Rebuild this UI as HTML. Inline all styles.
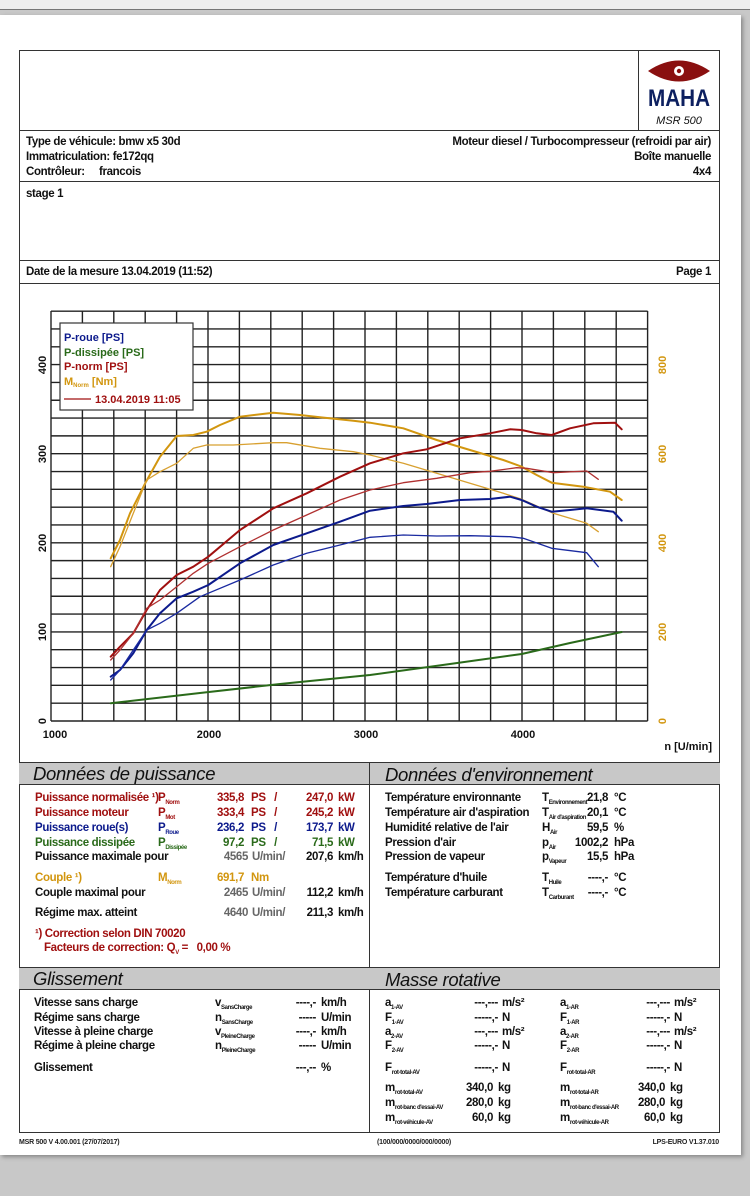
<!DOCTYPE html>
<html><head><meta charset="utf-8"><style>
*{margin:0;padding:0;box-sizing:border-box}
body{width:750px;height:1196px;background:#c8c8c8;position:relative;overflow:hidden;font-family:"Liberation Sans",sans-serif}
#top{position:absolute;left:0;top:0;width:750px;height:10px;background:#efefef;border-bottom:1px solid #777}
#paper{position:absolute;left:0;top:15px;width:741px;height:1140px;background:#fff;box-shadow:2px 2px 4px #888}
.b{position:absolute;border:1.5px solid #333}
.h{position:absolute;height:0;border-top:1.5px solid #333}
.v{position:absolute;width:0;border-left:1.5px solid #333}
.t{position:absolute;white-space:nowrap;font-weight:bold;font-size:11.5px;line-height:14px;letter-spacing:-0.35px;color:#111}
.r{transform:translateX(-100%)}
.sec{position:absolute;height:23px;background:#c8c8c8;border-top:1.5px solid #333;border-bottom:1.5px solid #333;font-style:italic;font-size:18.5px;line-height:21px;padding-left:14px;color:#111;letter-spacing:-0.3px}
sub{font-size:6px;vertical-align:-3px;letter-spacing:-0.4px}
.red{color:#a01010}.blu{color:#0c1a8c}.grn{color:#2a6a1a}.org{color:#d2960f}.gry{color:#666}
.f{position:absolute;font-size:7px;font-weight:bold;color:#222;white-space:nowrap;letter-spacing:-0.2px}
</style></head><body>
<div id="top"></div>
<div id="paper"></div>
<div class="b" style="left:19px;top:50px;width:701px;height:1083px"></div>
<div class="v" style="left:638px;top:50px;height:80px"></div>
<div class="h" style="left:19px;top:130px;width:701px"></div>
<div class="h" style="left:19px;top:181px;width:701px"></div>
<div class="h" style="left:19px;top:260px;width:701px"></div>
<div class="h" style="left:19px;top:283px;width:701px"></div>
<!-- logo -->
<svg style="position:absolute;left:640px;top:52px" width="78" height="76">
<path d="M8,19 Q39,-2 70,19 Q39,40 8,19Z" fill="#8a1010"/>
<circle cx="39" cy="19" r="5" fill="#fff"/><circle cx="39" cy="19" r="2.2" fill="#8a1010"/>
<text x="39" y="54" text-anchor="middle" font-family="Liberation Sans" font-weight="bold" font-size="24" fill="#0d2060" textLength="62" lengthAdjust="spacingAndGlyphs">MAHA</text>
<text x="39" y="72" text-anchor="middle" font-family="Liberation Sans" font-style="italic" font-size="11" fill="#111">MSR 500</text>
</svg>
<div class="t" style="left:26px;top:135px">Type de véhicule: bmw x5 30d</div>
<div class="t" style="left:26px;top:150px">Immatriculation: fe172qq</div>
<div class="t" style="left:26px;top:165px">Contrôleur: &nbsp; &nbsp; francois</div>
<div class="t r" style="left:711px;top:135px">Moteur diesel / Turbocompresseur (refroidi par air)</div>
<div class="t r" style="left:711px;top:150px">Boîte manuelle</div>
<div class="t r" style="left:711px;top:165px">4x4</div>
<div class="t" style="left:26px;top:187px">stage 1</div>
<div class="t" style="left:26px;top:265px">Date de la mesure 13.04.2019 (11:52)</div>
<div class="t r" style="left:711px;top:265px">Page 1</div>
<!-- chart -->
<svg style="position:absolute;left:0;top:0" width="750" height="770" font-family="Liberation Sans" font-weight="bold">
<g stroke="#222" stroke-width="1.4" fill="none" id="grid"></g>
<g font-size="11" fill="#111">
<text transform="translate(46,721) rotate(-90)" text-anchor="middle">0</text>
<text transform="translate(46,632) rotate(-90)" text-anchor="middle">100</text>
<text transform="translate(46,543) rotate(-90)" text-anchor="middle">200</text>
<text transform="translate(46,454) rotate(-90)" text-anchor="middle">300</text>
<text transform="translate(46,365) rotate(-90)" text-anchor="middle">400</text>
<text x="55" y="738" text-anchor="middle">1000</text>
<text x="209" y="738" text-anchor="middle">2000</text>
<text x="366" y="738" text-anchor="middle">3000</text>
<text x="523" y="738" text-anchor="middle">4000</text>
<text x="712" y="750" text-anchor="end">n [U/min]</text>
</g>
<g font-size="11" fill="#d2960f">
<text transform="translate(666,721) rotate(-90)" text-anchor="middle">0</text>
<text transform="translate(666,632) rotate(-90)" text-anchor="middle">200</text>
<text transform="translate(666,543) rotate(-90)" text-anchor="middle">400</text>
<text transform="translate(666,454) rotate(-90)" text-anchor="middle">600</text>
<text transform="translate(666,365) rotate(-90)" text-anchor="middle">800</text>
</g>
<g fill="none" stroke-linejoin="round" stroke-linecap="round">
<polyline stroke="#d2960f" stroke-width="2" points="110.7,558.3 120,540 130,513.3 146,481.7 160,456.7 176.7,436 193.3,435 206.7,431.7 220,425 240,416.7 273.3,412.7 300,415 320,417.3 353.3,420.7 370,422.7 403.3,428.3 436.7,440 470,450 503.3,460 521.7,466.7 536.7,475 551.7,482.7 583.3,486.7 610,491.7 621.7,500"/>
<polyline stroke="#d8a030" stroke-width="1.3" points="110.7,566.7 120,546.7 133.3,513.3 146.7,480 160,471.7 176.7,463.3 193.3,448.3 206.7,445 233.3,445 273.3,442.7 286.7,442.7 320,448.3 353.3,451.7 370,455 403.3,463.3 436.7,473.3 470,483.3 503.3,493.3 521.7,499.3 553.3,513.3 586.7,523.3 598.3,531.7"/>
<polyline stroke="#a01010" stroke-width="2" points="110.7,656.7 120,646.7 133.3,633.3 146.7,610 160,590 176.7,575 193.3,566.7 208.3,556.7 240,530 273.3,508.3 306.7,493.3 340,476.7 370,463.3 403.3,453.3 426.7,449.3 460,438.3 490,433.3 510,429.3 521.7,430 536.7,433.3 551.7,435 570,428.3 593.3,423.3 615,422.7 621.7,429.3"/>
<polyline stroke="#b03030" stroke-width="1.3" points="110.7,660 120,650 133.3,633.3 146.7,608.3 160,600 176.7,586.7 193.3,573.3 208.3,563.3 240,546.7 273.3,530 306.7,515 340,500 370,490 403.3,482.7 436.7,478.3 470,472.7 490,471.3 516.7,467.7 526.7,468.3 553.3,472.7 586.7,471 598.3,479.3"/>
<polyline stroke="#0c1a8c" stroke-width="2" points="110.7,676.7 120,670 133.3,653.3 146.7,630 160,613.3 176.7,598.3 193.3,591.7 208.3,585 240,563.3 273.3,545 306.7,533.3 340,521.7 370,510.7 403.3,506 426.7,504 460,500 490,499 510,496.7 521.7,500 536.7,506.7 551.7,511.7 570,510 586.7,508.3 613.3,511.7 621.7,520.7"/>
<polyline stroke="#1a2aa0" stroke-width="1.3" points="110.7,680 120,670 133.3,650 146.7,630 160,623.3 176.7,613.3 200,596.7 240,580 273.3,565 306.7,553.3 340,545 370,537.3 403.3,535 436.7,536 470,535.7 510,536.7 523.3,538.3 551.7,548.3 586.7,552.7 598.3,566.7"/>
<polyline stroke="#2a6a1a" stroke-width="2" points="110.7,703.3 200,693 280,684 370,675 450,664 521.7,654 570,643 621.7,632"/>
</g>
<rect x="60" y="323" width="133" height="87" fill="#fff" stroke="#333" stroke-width="1.2"/>
<g font-size="11">
<text x="64" y="341" fill="#0c1a8c">P-roue [PS]</text>
<text x="64" y="356" fill="#2a6a1a">P-dissipée [PS]</text>
<text x="64" y="370" fill="#a01010">P-norm [PS]</text>
<text x="64" y="385" fill="#d2960f">M<tspan font-size="6" dy="2">Norm</tspan><tspan dy="-2"> [Nm]</tspan></text>
<line x1="64" y1="399" x2="91" y2="399" stroke="#a01010" stroke-width="1.3"/>
<text x="95" y="403" fill="#a01010">13.04.2019 11:05</text>
</g>
</svg>
<script>
var g=document.getElementById('grid'),s='';
for(var k=0;k<=19;k++){var x=51+31.4*k;s+='<line x1="'+x+'" y1="311" x2="'+x+'" y2="721"/>';}
for(var j=0;j<=23;j++){var y=721-17.82*j;s+='<line x1="51" y1="'+y+'" x2="647.6" y2="'+y+'"/>';}
g.innerHTML=s;
</script>
<!-- sections -->
<div class="sec" style="left:19px;top:762px;width:701px">Données de puissance</div>
<div class="t" style="left:385px;top:764px;font-size:18.5px;font-weight:normal;font-style:italic;line-height:21px">Données d'environnement</div>
<div class="v" style="left:369px;top:762px;height:370px"></div>
<div class="sec" style="left:19px;top:967px;width:701px">Glissement</div>
<div class="t" style="left:385px;top:969px;font-size:18.5px;font-weight:normal;font-style:italic;line-height:21px">Masse rotative</div>

<div class="t red" style="left:35px;top:791px">Puissance normalisée ¹)</div>
<div class="t red" style="left:35px;top:806px">Puissance moteur</div>
<div class="t blu" style="left:35px;top:821px">Puissance roue(s)</div>
<div class="t grn" style="left:35px;top:836px">Puissance dissipée</div>
<div class="t" style="left:35px;top:850px">Puissance maximale pour</div>
<div class="t red" style="left:158px;top:791px">P<sub>Norm</sub></div>
<div class="t red" style="left:158px;top:806px">P<sub>Mot</sub></div>
<div class="t blu" style="left:158px;top:821px">P<sub>Roue</sub></div>
<div class="t grn" style="left:158px;top:836px">P<sub>Dissipée</sub></div>
<div class="t red r" style="left:244px;top:791px">335,8</div><div class="t red" style="left:251px;top:791px">PS &nbsp; / &nbsp;</div><div class="t red r" style="left:333px;top:791px">247,0</div><div class="t red" style="left:338px;top:791px">kW</div>
<div class="t red r" style="left:244px;top:806px">333,4</div><div class="t red" style="left:251px;top:806px">PS &nbsp; / &nbsp;</div><div class="t red r" style="left:333px;top:806px">245,2</div><div class="t red" style="left:338px;top:806px">kW</div>
<div class="t blu r" style="left:244px;top:821px">236,2</div><div class="t blu" style="left:251px;top:821px">PS &nbsp; / &nbsp;</div><div class="t blu r" style="left:333px;top:821px">173,7</div><div class="t blu" style="left:338px;top:821px">kW</div>
<div class="t grn r" style="left:244px;top:836px">97,2</div><div class="t grn" style="left:251px;top:836px">PS &nbsp; / &nbsp;</div><div class="t grn r" style="left:333px;top:836px">71,5</div><div class="t grn" style="left:338px;top:836px">kW</div>
<div class="t gry r" style="left:248px;top:850px">4565</div><div class="t gry" style="left:252px;top:850px">U/min/</div><div class="t r" style="left:333px;top:850px">207,6</div><div class="t" style="left:338px;top:850px">km/h</div>
<div class="t org" style="left:35px;top:871px">Couple ¹)</div><div class="t org" style="left:158px;top:871px">M<sub>Norm</sub></div><div class="t org r" style="left:244px;top:871px">691,7</div><div class="t org" style="left:251px;top:871px">Nm</div>
<div class="t" style="left:35px;top:886px">Couple maximal pour</div><div class="t gry r" style="left:248px;top:886px">2465</div><div class="t gry" style="left:252px;top:886px">U/min/</div><div class="t r" style="left:333px;top:886px">112,2</div><div class="t" style="left:338px;top:886px">km/h</div>
<div class="t" style="left:35px;top:906px">Régime max. atteint</div><div class="t gry r" style="left:248px;top:906px">4640</div><div class="t gry" style="left:252px;top:906px">U/min/</div><div class="t r" style="left:333px;top:906px">211,3</div><div class="t" style="left:338px;top:906px">km/h</div>
<div class="t red" style="left:35px;top:927px">¹) Correction selon DIN 70020</div>
<div class="t red" style="left:44px;top:941px">Facteurs de correction: Q<sub>V</sub> = &nbsp; 0,00 %</div>

<div class="t" style="left:385px;top:791px">Température environnante</div><div class="t" style="left:542px;top:791px">T<sub>Environnement</sub></div><div class="t r" style="left:608px;top:791px">21,8</div><div class="t" style="left:614px;top:791px">°C</div>
<div class="t" style="left:385px;top:806px">Température air d'aspiration</div><div class="t" style="left:542px;top:806px">T<sub>Air d'aspiration</sub></div><div class="t r" style="left:608px;top:806px">20,1</div><div class="t" style="left:614px;top:806px">°C</div>
<div class="t" style="left:385px;top:821px">Humidité relative de l'air</div><div class="t" style="left:542px;top:821px">H<sub>Air</sub></div><div class="t r" style="left:608px;top:821px">59,5</div><div class="t" style="left:614px;top:821px">%</div>
<div class="t" style="left:385px;top:836px">Pression d'air</div><div class="t" style="left:542px;top:836px">p<sub>Air</sub></div><div class="t r" style="left:608px;top:836px">1002,2</div><div class="t" style="left:614px;top:836px">hPa</div>
<div class="t" style="left:385px;top:850px">Pression de vapeur</div><div class="t" style="left:542px;top:850px">p<sub>Vapeur</sub></div><div class="t r" style="left:608px;top:850px">15,5</div><div class="t" style="left:614px;top:850px">hPa</div>
<div class="t" style="left:385px;top:871px">Température d'huile</div><div class="t" style="left:542px;top:871px">T<sub>Huile</sub></div><div class="t r" style="left:608px;top:871px">----,-</div><div class="t" style="left:614px;top:871px">°C</div>
<div class="t" style="left:385px;top:886px">Température carburant</div><div class="t" style="left:542px;top:886px">T<sub>Carburant</sub></div><div class="t r" style="left:608px;top:886px">----,-</div><div class="t" style="left:614px;top:886px">°C</div>

<div class="t" style="left:34px;top:996px">Vitesse sans charge</div><div class="t" style="left:215px;top:996px">v<sub>SansCharge</sub></div><div class="t r" style="left:316px;top:996px">----,-</div><div class="t" style="left:321px;top:996px">km/h</div>
<div class="t" style="left:34px;top:1011px">Régime sans charge</div><div class="t" style="left:215px;top:1011px">n<sub>SansCharge</sub></div><div class="t r" style="left:316px;top:1011px">-----</div><div class="t" style="left:321px;top:1011px">U/min</div>
<div class="t" style="left:34px;top:1025px">Vitesse à pleine charge</div><div class="t" style="left:215px;top:1025px">v<sub>PleineCharge</sub></div><div class="t r" style="left:316px;top:1025px">----,-</div><div class="t" style="left:321px;top:1025px">km/h</div>
<div class="t" style="left:34px;top:1039px">Régime à pleine charge</div><div class="t" style="left:215px;top:1039px">n<sub>PleineCharge</sub></div><div class="t r" style="left:316px;top:1039px">-----</div><div class="t" style="left:321px;top:1039px">U/min</div>
<div class="t" style="left:34px;top:1061px">Glissement</div><div class="t r" style="left:316px;top:1061px">---,--</div><div class="t" style="left:321px;top:1061px">%</div>

<div class="t" style="left:385px;top:996px">a<sub>1-AV</sub></div><div class="t r" style="left:498px;top:996px">---,---</div><div class="t" style="left:502px;top:996px">m/s²</div>
<div class="t" style="left:385px;top:1011px">F<sub>1-AV</sub></div><div class="t r" style="left:498px;top:1011px">-----,-</div><div class="t" style="left:502px;top:1011px">N</div>
<div class="t" style="left:385px;top:1025px">a<sub>2-AV</sub></div><div class="t r" style="left:498px;top:1025px">---,---</div><div class="t" style="left:502px;top:1025px">m/s²</div>
<div class="t" style="left:385px;top:1039px">F<sub>2-AV</sub></div><div class="t r" style="left:498px;top:1039px">-----,-</div><div class="t" style="left:502px;top:1039px">N</div>
<div class="t" style="left:385px;top:1061px">F<sub>rot-total-AV</sub></div><div class="t r" style="left:498px;top:1061px">-----,-</div><div class="t" style="left:502px;top:1061px">N</div>
<div class="t" style="left:560px;top:996px">a<sub>1-AR</sub></div><div class="t r" style="left:670px;top:996px">---,---</div><div class="t" style="left:674px;top:996px">m/s²</div>
<div class="t" style="left:560px;top:1011px">F<sub>1-AR</sub></div><div class="t r" style="left:670px;top:1011px">-----,-</div><div class="t" style="left:674px;top:1011px">N</div>
<div class="t" style="left:560px;top:1025px">a<sub>2-AR</sub></div><div class="t r" style="left:670px;top:1025px">---,---</div><div class="t" style="left:674px;top:1025px">m/s²</div>
<div class="t" style="left:560px;top:1039px">F<sub>2-AR</sub></div><div class="t r" style="left:670px;top:1039px">-----,-</div><div class="t" style="left:674px;top:1039px">N</div>
<div class="t" style="left:560px;top:1061px">F<sub>rot-total-AR</sub></div><div class="t r" style="left:670px;top:1061px">-----,-</div><div class="t" style="left:674px;top:1061px">N</div>
<div class="t" style="left:385px;top:1081px">m<sub>rot-total-AV</sub></div><div class="t r" style="left:493px;top:1081px">340,0</div><div class="t" style="left:498px;top:1081px">kg</div>
<div class="t" style="left:385px;top:1096px">m<sub>rot-banc d'essai-AV</sub></div><div class="t r" style="left:493px;top:1096px">280,0</div><div class="t" style="left:498px;top:1096px">kg</div>
<div class="t" style="left:385px;top:1111px">m<sub>rot-véhicule-AV</sub></div><div class="t r" style="left:493px;top:1111px">60,0</div><div class="t" style="left:498px;top:1111px">kg</div>
<div class="t" style="left:560px;top:1081px">m<sub>rot-total-AR</sub></div><div class="t r" style="left:665px;top:1081px">340,0</div><div class="t" style="left:670px;top:1081px">kg</div>
<div class="t" style="left:560px;top:1096px">m<sub>rot-banc d'essai-AR</sub></div><div class="t r" style="left:665px;top:1096px">280,0</div><div class="t" style="left:670px;top:1096px">kg</div>
<div class="t" style="left:560px;top:1111px">m<sub>rot-véhicule-AR</sub></div><div class="t r" style="left:665px;top:1111px">60,0</div><div class="t" style="left:670px;top:1111px">kg</div>

<div class="f" style="left:19px;top:1139px">MSR 500 V 4.00.001 (27/07/2017)</div>
<div class="f" style="left:377px;top:1139px">(100/000/0000/000/0000)</div>
<div class="f" style="left:719px;top:1139px;transform:translateX(-100%)">LPS-EURO V1.37.010</div>
</body></html>
